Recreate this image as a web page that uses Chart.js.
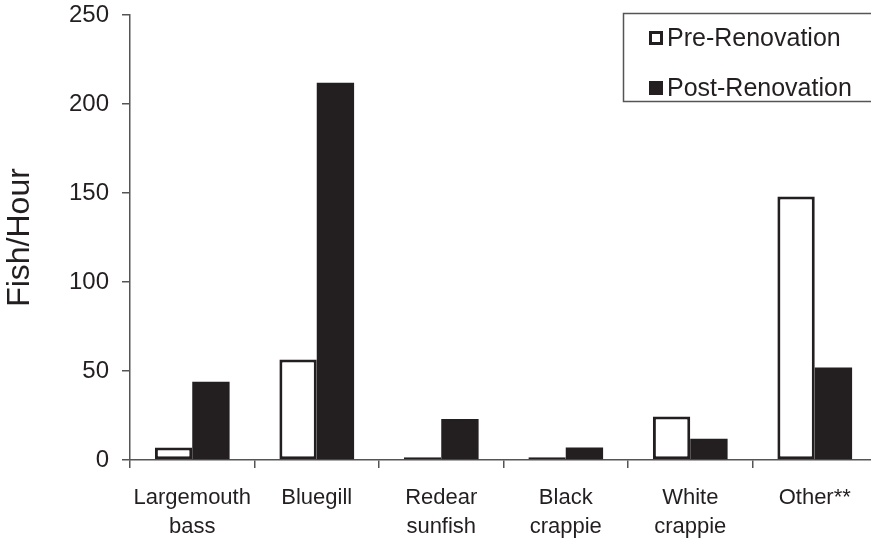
<!DOCTYPE html>
<html>
<head>
<meta charset="utf-8">
<script src="https://cdn.jsdelivr.net/npm/chart.js@4.4.0/dist/chart.umd.min.js"></script>
<style>
  body { margin: 0; background: #fff; }
  #wrap { width: 871px; height: 539px; overflow: hidden; }
</style>
</head>
<body>
<div id="wrap"><canvas id="fishChart" width="880" height="539"></canvas></div>
<script>
// values (fish per hour)
var species = [['Largemouth', 'bass'], 'Bluegill', ['Redear', 'sunfish'], ['Black', 'crappie'], ['White', 'crappie'], 'Other**'];
var preRenovation = [7, 56.5, 1.5, 1.5, 24.5, 148];
var postRenovation = [44, 212, 23, 7, 12, 52];
var yTicks = [0, 50, 100, 150, 200, 250];

var ink = '#231f20';
var axisColor = '#555';

// boxed legend in the top-right corner, like the original figure
var boxLegend = {
    id: 'boxLegend',
    afterDraw: function (chart) {
        var ctx = chart.ctx;
        ctx.save();
        ctx.strokeStyle = axisColor;
        ctx.lineWidth = 1.5;
        ctx.strokeRect(623.5, 13.5, 300, 88);
        ctx.font = '25px "Liberation Sans", Arial, sans-serif';
        ctx.textBaseline = 'middle';
        ctx.textAlign = 'left';
        chart.data.datasets.forEach(function (ds, i) {
            var cy = 38 + i * 50;
            if (ds.borderWidth) {
                ctx.fillStyle = '#fff';
                ctx.fillRect(649, cy - 7, 14, 14);
                ctx.strokeStyle = ink;
                ctx.lineWidth = 3;
                ctx.strokeRect(650.5, cy - 5.5, 11, 11);
            } else {
                ctx.fillStyle = ds.backgroundColor;
                ctx.fillRect(649, cy - 7, 14, 14);
            }
            ctx.fillStyle = ink;
            ctx.fillText(ds.label, 667, cy + 1);
        });
        ctx.restore();
    }
};

document.addEventListener('DOMContentLoaded', function () {
    var ctx = document.getElementById('fishChart').getContext('2d');
    new Chart(ctx, {
        type: 'bar',
        data: {
            labels: species,
            datasets: [{
                label: 'Pre-Renovation',
                data: preRenovation,
                backgroundColor: '#fff',
                borderColor: ink,
                borderWidth: 3,
                borderSkipped: false
            }, {
                label: 'Post-Renovation',
                data: postRenovation,
                backgroundColor: ink,
                borderWidth: 0
            }]
        },
        options: {
            responsive: false,
            animation: false,
            layout: { padding: { top: 15, right: 3, left: 0, bottom: 0 } },
            datasets: { bar: { categoryPercentage: 0.6, barPercentage: 1.0 } },
            plugins: {
                legend: { display: false },
                tooltip: { enabled: false }
            },
            scales: {
                x: {
                    grid: { drawOnChartArea: false, tickLength: 8, color: axisColor, lineWidth: 1.5 },
                    border: { color: axisColor, width: 1.5 },
                    ticks: {
                        color: ink,
                        padding: 15,
                        maxRotation: 0,
                        font: { family: '"Liberation Sans", Arial, sans-serif', size: 22, lineHeight: 1.32 }
                    },
                    afterFit: function (s) { s.height = 79; }
                },
                y: {
                    min: 0,
                    max: 250,
                    afterBuildTicks: function (s) {
                        s.ticks = yTicks.map(function (v) { return { value: v }; });
                    },
                    grid: { drawOnChartArea: false, tickLength: 8, color: axisColor, lineWidth: 1.5 },
                    border: { color: axisColor, width: 1.5 },
                    ticks: {
                        color: ink,
                        padding: 13,
                        font: { family: '"Liberation Sans", Arial, sans-serif', size: 24 }
                    },
                    title: {
                        display: true,
                        text: 'Fish/Hour',
                        color: ink,
                        padding: { top: 1, bottom: 0 },
                        font: { family: '"Liberation Sans", Arial, sans-serif', size: 32, lineHeight: 1.2 }
                    },
                    afterFit: function (s) {
                        s.width = 130;
                        s.paddingTop = 0;
                        s.paddingBottom = 0;
                    }
                }
            }
        },
        plugins: [boxLegend]
    });
});
</script>
</body>
</html>
